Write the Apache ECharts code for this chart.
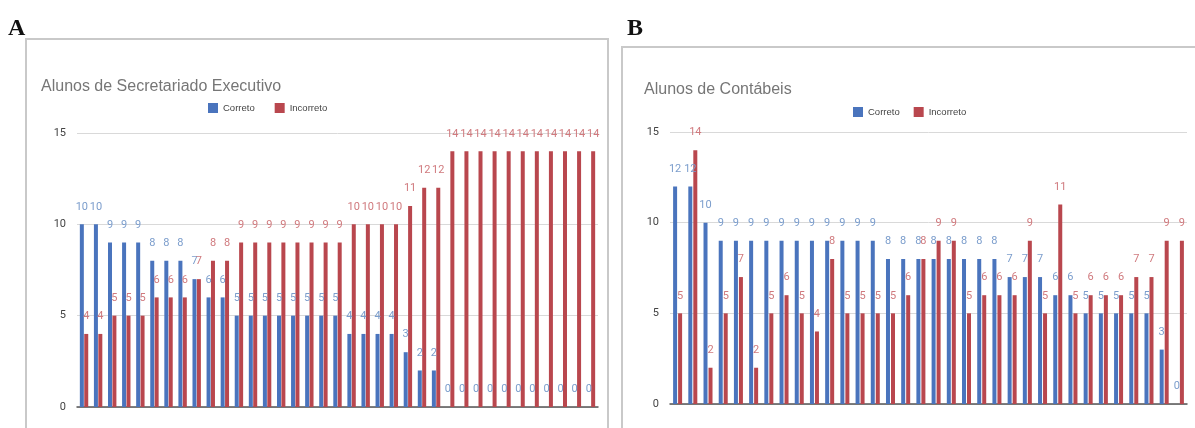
<!DOCTYPE html>
<html><head><meta charset="utf-8">
<script src="https://cdn.jsdelivr.net/npm/echarts@6/dist/echarts.min.js"></script>
<style>html,body{margin:0;padding:0;background:#fff}#c{width:1195px;height:428px}</style>
</head><body><div id="c"></div>
<script>
// Panel A: Alunos de Secretariado Executivo
const catsA = Array.from({length: 37}, (_, i) => String(i + 1));
const correctA = [10,10,9,9,9,8,8,8,7,6,6,5,5,5,5,5,5,5,5,4,4,4,4,3,2,2,0,0,0,0,0,0,0,0,0,0,0];
const incorrectA = [4,4,5,5,5,6,6,6,7,8,8,9,9,9,9,9,9,9,9,10,10,10,10,11,12,12,14,14,14,14,14,14,14,14,14,14,14];
// Panel B: Alunos de Contábeis
const catsB = Array.from({length: 34}, (_, i) => String(i + 1));
const correctB = [12,12,10,9,9,9,9,9,9,9,9,9,9,9,8,8,8,8,8,8,8,8,7,7,7,6,6,5,5,5,5,5,3,0];
const incorrectB = [5,14,2,5,7,2,5,6,5,4,8,5,5,5,5,6,8,9,9,5,6,6,6,9,5,11,5,6,6,6,7,7,9,9];
const yTicks = [0, 5, 10, 15];

const BLUE = '#4a74bd', RED = '#b9474e';
const font = 'Roboto, "Liberation Sans", Arial, sans-serif';
const chart = echarts.init(document.getElementById('c'));
const yAx = (gi) => ({
  gridIndex: gi, type: 'value', min: 0, max: 15, interval: 5,
  axisLine: {show: false}, axisTick: {show: false},
  axisLabel: {color: '#444', fontSize: 11, fontFamily: font, margin: 11,
    formatter: v => yTicks.includes(v) ? String(v) : ''},
  splitLine: {lineStyle: {color: '#d9d9d9', width: 1}}
});
const xAx = (gi, cats) => ({
  gridIndex: gi, type: 'category', data: cats,
  axisLine: {lineStyle: {color: '#555', width: 1.5}},
  axisTick: {show: false}, axisLabel: {show: false}
});
const bar = (name, data, gi, color, lblColor, gap) => ({
  name, type: 'bar', data, xAxisIndex: gi, yAxisIndex: gi,
  barWidth: 4, barGap: gap, itemStyle: {color},
  label: {show: true, position: 'top', distance: 12, color: lblColor, fontSize: 11, fontFamily: font},
  animation: false
});
const titleStyle = {color: '#767676', fontSize: 16, fontWeight: 'normal', fontFamily: '"Liberation Sans", Arial, sans-serif'};
const legText = {color: '#444', fontSize: 9.5, fontFamily: '"Liberation Sans", Arial, sans-serif'};
chart.setOption({
  animation: false,
  title: [
    {text: 'Alunos de Secretariado Executivo', left: 36, top: 74, textStyle: titleStyle},
    {text: 'Alunos de Contábeis', left: 639, top: 77, textStyle: titleStyle}
  ],
  legend: [
    {left: 203, top: 98, itemWidth: 10, itemHeight: 10, itemGap: 20, icon: 'rect',
     data: ['Correto', 'Incorreto'], textStyle: legText},
    {left: 848, top: 102, itemWidth: 10, itemHeight: 10, itemGap: 14, icon: 'rect',
     data: ['Correto', 'Incorreto'], textStyle: legText}
  ],
  grid: [
    {left: 77, width: 521, top: 133, bottom: 21},
    {left: 670, width: 517, top: 132, bottom: 24}
  ],
  xAxis: [xAx(0, catsA), xAx(1, catsB)],
  yAxis: [yAx(0), yAx(1)],
  series: [
    bar('Correto', correctA, 0, BLUE, '#7b9dcc', '10%'),
    bar('Incorreto', incorrectA, 0, RED, '#d07a7e', '10%'),
    bar('Correto', correctB, 1, BLUE, '#7b9dcc', '25%'),
    bar('Incorreto', incorrectB, 1, RED, '#d07a7e', '25%')
  ],
  graphic: [
    {type: 'rect', shape: {x: 26, y: 39, width: 582, height: 420}, style: {fill: 'none', stroke: '#c9c9c9', lineWidth: 2}},
    {type: 'rect', shape: {x: 622, y: 47, width: 590, height: 420}, style: {fill: 'none', stroke: '#c9c9c9', lineWidth: 2}},
    {type: 'text', left: 8, top: 17, style: {text: 'A', fontSize: 24, fontWeight: 'bold', fontFamily: '"Liberation Serif", "DejaVu Serif", serif', fill: '#111'}},
    {type: 'text', left: 627, top: 17, style: {text: 'B', fontSize: 24, fontWeight: 'bold', fontFamily: '"Liberation Serif", "DejaVu Serif", serif', fill: '#111'}}
  ]
});
</script></body></html>
